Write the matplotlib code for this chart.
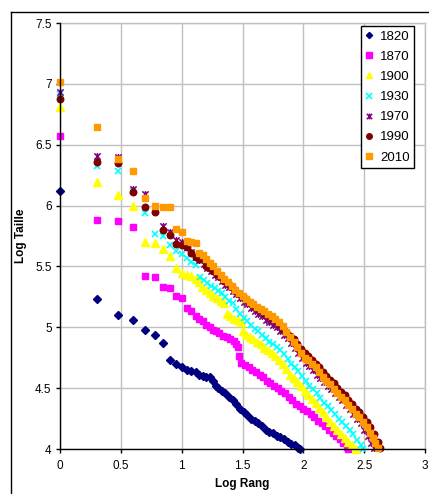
import matplotlib
matplotlib.use("Agg")
import matplotlib.pyplot as plt
from matplotlib.path import Path
from matplotlib.lines import Line2D
import numpy as np

plt.rcParams['font.family'] = ['Liberation Sans', 'DejaVu Sans']

# ---------------- data (log10 rank, log10 size) ----------------
years = ["1820", "1870", "1900", "1930", "1970", "1990", "2010"]

x_1820 = [0, 0.301, 0.477, 0.602, 0.699, 0.778, 0.845, 0.903, 0.954, 1.0, 1.041, 1.079, 1.114, 1.146, 1.176, 1.204, 1.230, 1.255, 1.279,
          1.30, 1.33, 1.36, 1.39, 1.42, 1.45, 1.48, 1.51, 1.54, 1.57, 1.60, 1.63, 1.66, 1.69, 1.72, 1.75, 1.78, 1.81, 1.84, 1.87, 1.90, 1.93, 1.96, 1.97]
y_1820 = [6.12, 5.23, 5.10, 5.06, 4.98, 4.94, 4.87, 4.73, 4.70, 4.67, 4.65, 4.64, 4.63, 4.61, 4.60, 4.595, 4.59, 4.56, 4.52,
          4.50, 4.48, 4.46, 4.43, 4.40, 4.37, 4.33, 4.30, 4.28, 4.25, 4.23, 4.21, 4.19, 4.16, 4.14, 4.13, 4.11, 4.10, 4.08, 4.06, 4.04, 4.03, 4.01, 4.00]

x_1870 = [0, 0.301, 0.477, 0.602, 0.699, 0.778, 0.845, 0.903, 0.954, 1.0, 1.041, 1.079, 1.114, 1.146, 1.176, 1.204, 1.230, 1.255,
          1.28, 1.31, 1.34, 1.37, 1.40, 1.43, 1.45, 1.465, 1.47, 1.49, 1.52, 1.55, 1.58, 1.61, 1.64, 1.67, 1.70, 1.73, 1.76, 1.79, 1.82,
          1.85, 1.88, 1.91, 1.94, 1.97, 2.00, 2.03, 2.06, 2.09, 2.12, 2.15, 2.18, 2.21, 2.24, 2.27, 2.30, 2.33, 2.36, 2.37]
y_1870 = [6.57, 5.88, 5.87, 5.82, 5.42, 5.41, 5.33, 5.32, 5.26, 5.24, 5.155, 5.13, 5.09, 5.07, 5.05, 5.02, 5.00, 4.98,
          4.97, 4.95, 4.93, 4.92, 4.90, 4.89, 4.86, 4.84, 4.76, 4.71, 4.69, 4.67, 4.65, 4.63, 4.61, 4.59, 4.56, 4.54, 4.52, 4.50, 4.48,
          4.46, 4.43, 4.40, 4.37, 4.35, 4.33, 4.31, 4.29, 4.26, 4.23, 4.21, 4.19, 4.16, 4.13, 4.11, 4.08, 4.05, 4.02, 4.00]

x_1900 = [0, 0.301, 0.477, 0.602, 0.699, 0.778, 0.845, 0.903, 0.954, 1.0, 1.041, 1.079, 1.114, 1.146,
          1.17, 1.20, 1.23, 1.26, 1.29, 1.32, 1.35, 1.37, 1.40, 1.43, 1.46, 1.49, 1.50, 1.53, 1.56, 1.59, 1.62, 1.65, 1.68, 1.71,
          1.74, 1.77, 1.80, 1.83, 1.86, 1.89, 1.92, 1.95, 1.98, 2.01, 2.04, 2.07, 2.10, 2.13, 2.16, 2.19, 2.22, 2.25, 2.28, 2.31,
          2.34, 2.37, 2.40, 2.43]
y_1900 = [6.81, 6.19, 6.09, 6.00, 5.70, 5.695, 5.64, 5.585, 5.485, 5.45, 5.43, 5.42, 5.40, 5.37,
          5.33, 5.31, 5.28, 5.26, 5.24, 5.22, 5.20, 5.11, 5.09, 5.07, 5.06, 5.04, 4.97, 4.94, 4.92, 4.90, 4.88, 4.86, 4.83, 4.81,
          4.79, 4.76, 4.73, 4.70, 4.66, 4.61, 4.58, 4.55, 4.52, 4.48, 4.44, 4.41, 4.38, 4.34, 4.30, 4.26, 4.22, 4.19, 4.16, 4.12,
          4.09, 4.06, 4.03, 4.00]

x_1930 = [0, 0.301, 0.477, 0.602, 0.699, 0.778, 0.845, 0.903, 0.954, 1.0, 1.041, 1.079, 1.114,
          1.15, 1.18, 1.21, 1.24, 1.27, 1.30, 1.33, 1.36, 1.39, 1.42, 1.45, 1.48, 1.51, 1.54, 1.57, 1.60, 1.63, 1.66, 1.69, 1.72,
          1.75, 1.78, 1.81, 1.84, 1.87, 1.90, 1.93, 1.96, 1.99, 2.02, 2.05, 2.08, 2.11, 2.14, 2.17, 2.20, 2.23, 2.26, 2.29, 2.32,
          2.35, 2.38, 2.41, 2.44, 2.47, 2.49]
y_1930 = [6.915, 6.325, 6.28, 6.12, 5.94, 5.77, 5.75, 5.68, 5.63, 5.60, 5.57, 5.54, 5.51,
          5.41, 5.39, 5.36, 5.34, 5.32, 5.30, 5.28, 5.25, 5.22, 5.20, 5.15, 5.11, 5.08, 5.05, 5.02, 4.99, 4.97, 4.94, 4.91, 4.88,
          4.86, 4.84, 4.81, 4.78, 4.74, 4.70, 4.67, 4.64, 4.60, 4.56, 4.52, 4.49, 4.46, 4.42, 4.38, 4.35, 4.32, 4.29, 4.25, 4.22,
          4.19, 4.16, 4.12, 4.07, 4.03, 4.00]

x_1970 = [0, 0.301, 0.477, 0.602, 0.699, 0.778, 0.845, 0.903, 0.954, 1.0, 1.041, 1.079, 1.114, 1.146,
          1.18, 1.21, 1.24, 1.27, 1.30, 1.33, 1.36, 1.39, 1.42, 1.45, 1.48, 1.51, 1.54, 1.57, 1.60, 1.63, 1.66, 1.69, 1.72, 1.75,
          1.78, 1.81, 1.84, 1.87, 1.90, 1.93, 1.96, 1.99, 2.02, 2.05, 2.08, 2.11, 2.14, 2.17, 2.20, 2.23, 2.26, 2.29, 2.32, 2.35,
          2.38, 2.41, 2.44, 2.47, 2.50, 2.53, 2.56, 2.58]
y_1970 = [6.93, 6.41, 6.40, 6.14, 6.095, 5.96, 5.835, 5.78, 5.72, 5.70, 5.66, 5.62, 5.58, 5.55,
          5.52, 5.49, 5.46, 5.43, 5.41, 5.38, 5.35, 5.33, 5.30, 5.27, 5.24, 5.21, 5.19, 5.16, 5.13, 5.11, 5.09, 5.06, 5.04, 5.02,
          5.00, 4.97, 4.94, 4.91, 4.87, 4.83, 4.79, 4.75, 4.71, 4.68, 4.65, 4.61, 4.58, 4.55, 4.52, 4.49, 4.46, 4.43, 4.40, 4.36,
          4.33, 4.29, 4.25, 4.21, 4.16, 4.11, 4.05, 4.01]

x_1990 = [0, 0.301, 0.477, 0.602, 0.699, 0.778, 0.845, 0.903, 0.954, 1.0, 1.041, 1.079, 1.114, 1.146,
          1.20, 1.23, 1.26, 1.29, 1.32, 1.35, 1.38, 1.41, 1.44, 1.47, 1.50, 1.53, 1.56, 1.59, 1.62, 1.65, 1.68, 1.71, 1.74, 1.77,
          1.80, 1.83, 1.86, 1.89, 1.92, 1.95, 1.98, 2.01, 2.04, 2.07, 2.10, 2.13, 2.16, 2.19, 2.22, 2.25, 2.28, 2.31, 2.34, 2.37,
          2.40, 2.43, 2.46, 2.49, 2.52, 2.55, 2.58, 2.61, 2.63]
y_1990 = [6.875, 6.356, 6.35, 6.11, 5.985, 5.95, 5.80, 5.76, 5.685, 5.675, 5.66, 5.61, 5.58, 5.56,
          5.50, 5.485, 5.46, 5.44, 5.41, 5.38, 5.36, 5.33, 5.30, 5.27, 5.25, 5.23, 5.20, 5.18, 5.16, 5.14, 5.12, 5.10, 5.08, 5.06,
          5.03, 4.99, 4.96, 4.93, 4.90, 4.86, 4.82, 4.79, 4.76, 4.73, 4.70, 4.67, 4.63, 4.60, 4.57, 4.54, 4.50, 4.47, 4.44, 4.40,
          4.37, 4.33, 4.30, 4.26, 4.22, 4.18, 4.12, 4.06, 4.01]

x_2010 = [0, 0.301, 0.477, 0.602, 0.699, 0.778, 0.845, 0.903, 0.954, 1.0, 1.041, 1.079, 1.114, 1.146, 1.176,
          1.20, 1.23, 1.26, 1.29, 1.32, 1.35, 1.38, 1.41, 1.44, 1.47, 1.50, 1.53, 1.56, 1.59, 1.62, 1.65, 1.68, 1.71, 1.74, 1.77,
          1.80, 1.83, 1.86, 1.89, 1.92, 1.95, 1.98, 2.01, 2.04, 2.07, 2.10, 2.13, 2.16, 2.19, 2.22, 2.25, 2.28, 2.31, 2.34, 2.37,
          2.40, 2.43, 2.46, 2.49, 2.52, 2.55, 2.57, 2.59, 2.61]
y_2010 = [7.015, 6.648, 6.38, 6.28, 6.065, 6.00, 5.99, 5.985, 5.81, 5.78, 5.71, 5.70, 5.69, 5.61, 5.59,
          5.56, 5.53, 5.50, 5.46, 5.43, 5.40, 5.37, 5.34, 5.31, 5.28, 5.26, 5.23, 5.21, 5.19, 5.17, 5.15, 5.13, 5.11, 5.09, 5.07,
          5.04, 5.01, 4.96, 4.92, 4.88, 4.84, 4.79, 4.75, 4.73, 4.70, 4.67, 4.63, 4.59, 4.56, 4.53, 4.49, 4.46, 4.43, 4.40, 4.36,
          4.33, 4.29, 4.26, 4.22, 4.18, 4.13, 4.09, 4.05, 4.01]

xticks = [0, 0.5, 1, 1.5, 2, 2.5, 3]
yticks = [4, 4.5, 5, 5.5, 6, 6.5, 7, 7.5]
xtick_labels = ["0", "0.5", "1", "1.5", "2", "2.5", "3"]
ytick_labels = ["4", "4.5", "5", "5.5", "6", "6.5", "7", "7.5"]

# ---------------- figure ----------------
W, H = 429, 494
fig = plt.figure(figsize=(W / 100, H / 100), dpi=100)
ax = fig.add_axes([60 / W, 1 - 449 / H, (425 - 60) / W, (449 - 23) / H])

star = Path([(-1, -1), (1, 1), (-1, 1), (1, -1), (0, -1.1), (0, 1.1)],
            [Path.MOVETO, Path.LINETO, Path.MOVETO, Path.LINETO, Path.MOVETO, Path.LINETO])

styles = {
    "1820": dict(marker="D", color="#000080", ms=3.7, mec="#000080"),
    "1870": dict(marker="s", color="#FF00FF", ms=4.3, mec="#FF00FF"),
    "1900": dict(marker="^", color="#FFFF00", ms=5.4, mec="#FFFF00"),
    "1930": dict(marker="x", color="#00FFFF", ms=5.0, mew=1.2, mec="#00FFFF"),
    "1970": dict(marker=star, color="#800080", ms=5.0, mew=1.1, mec="#800080"),
    "1990": dict(marker="o", color="#800000", ms=4.7, mec="#800000"),
    "2010": dict(marker="s", color="#FF9900", ms=5.0, mec="#FF9900"),
}
series = {
    "1820": (x_1820, y_1820),
    "1870": (x_1870, y_1870),
    "1900": (x_1900, y_1900),
    "1930": (x_1930, y_1930),
    "1970": (x_1970, y_1970),
    "1990": (x_1990, y_1990),
    "2010": (x_2010, y_2010),
}

for yr in years:
    xs, ys = series[yr]
    st = styles[yr]
    ax.plot(xs, ys, linestyle="none", label=yr, clip_on=False, zorder=3, **st)

ax.set_xlim(0, 3)
ax.set_ylim(4, 7.5)
ax.set_xticks(xticks)
ax.set_xticklabels(xtick_labels)
ax.set_yticks(yticks)
ax.set_yticklabels(ytick_labels)
ax.grid(True, color="#c0c0c0", linewidth=1.0, zorder=0)
ax.set_axisbelow(True)
for side in ["top", "right"]:
    ax.spines[side].set_color("#c0c0c0")
    ax.spines[side].set_linewidth(1.0)
for side in ["left", "bottom"]:
    ax.spines[side].set_color("black")
    ax.spines[side].set_linewidth(1.0)
    ax.spines[side].set_zorder(4)
ax.tick_params(axis="both", direction="out", length=3, width=1, colors="black",
               labelsize=8.5, pad=3)
ax.tick_params(axis="x", pad=5)

ax.set_xlabel("Log Rang", fontsize=8.5, fontweight="bold", labelpad=4)
ax.set_ylabel("Log Taille", fontsize=8.5, fontweight="bold", labelpad=6)

leg = ax.legend(loc="upper right", bbox_to_anchor=(414 / W, 1 - 26.5 / H),
                bbox_transform=fig.transFigure, fontsize=9.5, frameon=True,
                fancybox=False, framealpha=1, edgecolor="black",
                handlelength=0.7, handletextpad=0.5, borderpad=0.3,
                labelspacing=0.6, borderaxespad=0, markerscale=0.85)
leg.get_frame().set_linewidth(1.0)
leg.set_zorder(10)

# outer chart border (top and left edges visible)
fig.add_artist(Line2D([11 / W, 11 / W], [0, 1 - 12 / H], color="black", linewidth=1.0,
                      transform=fig.transFigure))
fig.add_artist(Line2D([11 / W, 1], [1 - 12 / H, 1 - 12 / H], color="black", linewidth=1.0,
                      transform=fig.transFigure))

fig.savefig("out.png", dpi=100)
